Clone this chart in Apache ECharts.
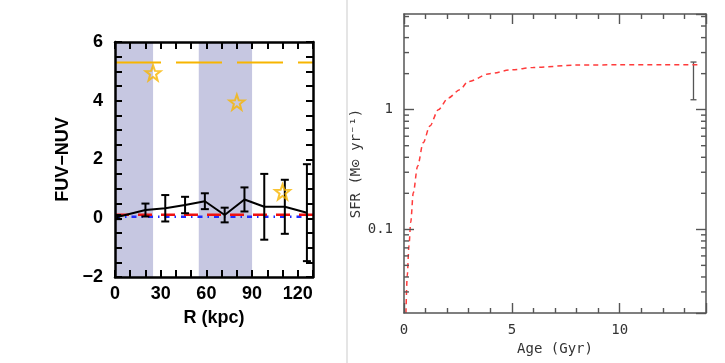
<!DOCTYPE html>
<html>
<head>
<meta charset="utf-8">
<script src="https://cdn.jsdelivr.net/npm/echarts@6/dist/echarts.min.js"></script>
<style>html,body{margin:0;padding:0;background:#fff}#c{width:725px;height:363px}</style>
</head>
<body>
<div id="c"></div>
<script>
// ---------- Left panel data ----------
const radiusKpc = [1.5, 20, 33, 46, 59, 72, 85, 98, 111.5, 126];
const fuvNuv = [0.04, 0.28, 0.34, 0.45, 0.58, 0.11, 0.64, 0.39, 0.39, 0.19];
const fuvNuvErr = [0.07, 0.22, 0.45, 0.28, 0.27, 0.25, 0.41, 1.12, 0.92, 1.65];
const bandStart = [0, 55];
const bandEnd = [25, 90];
const starR = [25, 80, 110];
const starColor = [4.95, 3.95, 0.9];
const orangeLevel = 5.3;
const redLevel = 0.12;
const blueLevel = 0.05;
const leftXRange = [0, 130];
const leftYRange = [-2, 6];

// ---------- Right panel data ----------
const ageGyr = [0.09, 0.15, 0.23, 0.31, 0.43, 0.63, 0.89, 1.2, 1.59, 2.05, 2.59, 2.98, 3.98, 4.98, 5.99, 8.0, 10.0, 12.0, 13.6];
const sfr = [0.02, 0.041, 0.073, 0.114, 0.202, 0.337, 0.53, 0.73, 1.0, 1.25, 1.47, 1.72, 2.0, 2.15, 2.25, 2.36, 2.37, 2.37, 2.37];
const sfrErrAge = [13.42];
const sfrErrLow = [1.21];
const sfrErrHigh = [2.5];
const sfrMinorTicks = [0.03, 0.04, 0.05, 0.06, 0.07, 0.08, 0.09, 0.2, 0.3, 0.4, 0.5, 0.6, 0.7, 0.8, 0.9, 2, 3, 4, 5, 6];
const rightXRange = [0, 14];
const rightYRange = [0.02, 6.3];

const chart = echarts.init(document.getElementById('c'), null, {renderer: 'canvas'});

const boldFont = {fontFamily: 'Liberation Sans, Arial, sans-serif', fontWeight: 'bold', fontSize: 18, color: '#000'};
const monoFont = {fontFamily: 'DejaVu Sans Mono, monospace', fontSize: 14, color: '#333'};
const starPath = 'path://M50,0 L62,34 L98,35 L69,57 L79,92 L50,71 L21,92 L31,57 L2,35 L38,34 Z';

const leftAxisLine = {show: true, onZero: false, lineStyle: {color: '#000', width: 2.5}};
const leftTick = {show: true, inside: true, length: 7, lineStyle: {color: '#000', width: 2}};
const leftMinor = {show: true, length: 7, lineStyle: {color: '#000', width: 2}};
const rightAxisLine = {show: true, onZero: false, lineStyle: {color: '#555', width: 1.5}};
const rightTick = {show: true, inside: true, length: 10, lineStyle: {color: '#555', width: 1.4}};

function minusFmt(v) { return String(v).replace('-', '\u2212'); }

option = {
  animation: false,
  graphic: [{type: 'line', shape: {x1: 347, y1: 0, x2: 347, y2: 363}, style: {stroke: '#dddddd', lineWidth: 1.5}}],
  grid: [
    {left: 115, top: 42, width: 198, height: 235},
    {left: 404, top: 14, width: 302, height: 299}
  ],
  xAxis: [
    {gridIndex: 0, type: 'value', min: leftXRange[0], max: leftXRange[1], interval: 30, position: 'bottom', z: 10,
     axisLine: leftAxisLine, axisTick: leftTick, minorTick: Object.assign({splitNumber: 3}, leftMinor),
     splitLine: {show: false}, minorSplitLine: {show: false},
     axisLabel: Object.assign({margin: 8, showMaxLabel: false, formatter: v => (v % 30 === 0 ? String(v) : '')}, boldFont),
     name: 'R (kpc)', nameLocation: 'middle', nameGap: 32, nameTextStyle: boldFont},
    {gridIndex: 0, type: 'value', min: leftXRange[0], max: leftXRange[1], interval: 30, position: 'top', z: 10,
     axisLine: leftAxisLine, axisTick: leftTick, minorTick: Object.assign({splitNumber: 3}, leftMinor),
     splitLine: {show: false}, axisLabel: {show: false}},
    {gridIndex: 1, type: 'value', min: rightXRange[0], max: rightXRange[1], interval: 5, position: 'bottom', z: 10,
     axisLine: rightAxisLine, axisTick: rightTick,
     minorTick: {show: true, splitNumber: 5, length: 5, lineStyle: {color: '#555', width: 1.4}},
     splitLine: {show: false},
     axisLabel: Object.assign({margin: 10, showMaxLabel: false, formatter: v => (v % 5 === 0 ? String(v) : '')}, monoFont),
     name: 'Age (Gyr)', nameLocation: 'middle', nameGap: 29, nameTextStyle: monoFont},
    {gridIndex: 1, type: 'value', min: rightXRange[0], max: rightXRange[1], interval: 5, position: 'top', z: 10,
     axisLine: rightAxisLine, axisTick: rightTick,
     minorTick: {show: true, splitNumber: 5, length: 5, lineStyle: {color: '#555', width: 1.4}},
     splitLine: {show: false}, axisLabel: {show: false}}
  ],
  yAxis: [
    {gridIndex: 0, type: 'value', min: leftYRange[0], max: leftYRange[1], interval: 2, position: 'left', z: 10,
     axisLine: leftAxisLine, axisTick: leftTick, minorTick: Object.assign({splitNumber: 4}, leftMinor),
     splitLine: {show: false},
     axisLabel: Object.assign({margin: 12, formatter: minusFmt}, boldFont),
     name: 'FUV\u2212NUV', nameLocation: 'middle', nameGap: 43, nameTextStyle: boldFont},
    {gridIndex: 0, type: 'value', min: leftYRange[0], max: leftYRange[1], interval: 2, position: 'right', z: 10,
     axisLine: leftAxisLine, axisTick: leftTick, minorTick: Object.assign({splitNumber: 4}, leftMinor),
     splitLine: {show: false}, axisLabel: {show: false}},
    {gridIndex: 1, type: 'log', logBase: 10, min: rightYRange[0], max: rightYRange[1], position: 'left', z: 10,
     axisLine: rightAxisLine, axisTick: rightTick, splitLine: {show: false},
     axisLabel: Object.assign({margin: 11, showMinLabel: false, showMaxLabel: false,
       formatter: v => { const l = Math.log10(v); return Math.abs(l - Math.round(l)) < 1e-6 ? String(+v.toPrecision(3)) : ''; }}, monoFont),
     name: 'SFR (M\u2299 yr\u207B\u00B9)', nameLocation: 'middle', nameGap: 39, nameTextStyle: monoFont},
    {gridIndex: 1, type: 'log', logBase: 10, min: rightYRange[0], max: rightYRange[1], position: 'right', z: 10,
     axisLine: rightAxisLine, axisTick: rightTick, splitLine: {show: false}, axisLabel: {show: false}}
  ],
  series: [
    {type: 'line', xAxisIndex: 0, yAxisIndex: 0, z: 1, symbol: 'none', silent: true,
     data: [[leftXRange[0], orangeLevel], [leftXRange[1], orangeLevel]],
     lineStyle: {color: '#f7b500', width: 2, type: [46, 15]},
     markArea: {silent: true, itemStyle: {color: '#c6c7e1'},
       data: bandStart.map((s, i) => [{xAxis: s}, {xAxis: bandEnd[i]}])}},
    {type: 'line', xAxisIndex: 0, yAxisIndex: 0, z: 3, symbol: 'none', silent: true,
     data: [[leftXRange[0], blueLevel], [leftXRange[1], blueLevel]],
     lineStyle: {color: '#1f2bff', width: 2.5, type: [5, 5, 1.5, 5]}},
    {type: 'line', xAxisIndex: 0, yAxisIndex: 0, z: 4, symbol: 'none', silent: true,
     data: [[leftXRange[0], redLevel], [leftXRange[1], redLevel]],
     lineStyle: {color: '#ee1111', width: 2.5, type: [14, 9]}},
    {type: 'line', xAxisIndex: 0, yAxisIndex: 0, z: 5, symbol: 'none', silent: true,
     data: radiusKpc.map((r, i) => [r, fuvNuv[i]]),
     lineStyle: {color: '#000', width: 2}},
    {type: 'custom', xAxisIndex: 0, yAxisIndex: 0, z: 5, silent: true, clip: true,
     data: radiusKpc.map((r, i) => [r, fuvNuv[i] - fuvNuvErr[i], fuvNuv[i] + fuvNuvErr[i]]),
     encode: {x: 0, y: [1, 2]},
     renderItem: (params, api) => {
       const lo = api.coord([api.value(0), api.value(1)]);
       const hi = api.coord([api.value(0), api.value(2)]);
       const st = {stroke: '#000', lineWidth: 2};
       return {type: 'group', children: [
         {type: 'line', shape: {x1: lo[0], y1: lo[1], x2: hi[0], y2: hi[1]}, style: st},
         {type: 'line', shape: {x1: lo[0] - 4, y1: lo[1], x2: lo[0] + 4, y2: lo[1]}, style: st},
         {type: 'line', shape: {x1: hi[0] - 4, y1: hi[1], x2: hi[0] + 4, y2: hi[1]}, style: st}
       ]};
     }},
    {type: 'scatter', xAxisIndex: 0, yAxisIndex: 0, z: 6, silent: true,
     data: starR.map((r, i) => [r, starColor[i]]),
     symbol: starPath, symbolSize: 15,
     itemStyle: {color: 'rgba(255,255,255,0)', borderColor: '#f7b500', borderWidth: 2}},

    {type: 'line', xAxisIndex: 2, yAxisIndex: 2, z: 3, symbol: 'none', silent: true, smooth: 0.3, smoothMonotone: 'x',
     data: ageGyr.map((a, i) => [a, sfr[i]]),
     lineStyle: {color: '#ff3b3b', width: 1.5, type: [5, 4]}},
    {type: 'custom', xAxisIndex: 2, yAxisIndex: 2, z: 3, silent: true,
     data: sfrErrAge.map((a, i) => [a, sfrErrLow[i], sfrErrHigh[i]]),
     encode: {x: 0, y: [1, 2]},
     renderItem: (params, api) => {
       const lo = api.coord([api.value(0), api.value(1)]);
       const hi = api.coord([api.value(0), api.value(2)]);
       const st = {stroke: '#555', lineWidth: 1.3};
       return {type: 'group', children: [
         {type: 'line', shape: {x1: lo[0], y1: lo[1], x2: hi[0], y2: hi[1]}, style: st},
         {type: 'line', shape: {x1: lo[0] - 3, y1: lo[1], x2: lo[0] + 3, y2: lo[1]}, style: st},
         {type: 'line', shape: {x1: hi[0] - 3, y1: hi[1], x2: hi[0] + 3, y2: hi[1]}, style: st}
       ]};
     }},
    {type: 'custom', xAxisIndex: 2, yAxisIndex: 2, z: 11, silent: true, clip: false,
     data: sfrMinorTicks.map(v => [rightXRange[0], v]),
     encode: {x: 0, y: 1},
     renderItem: (params, api) => {
       const pl = api.coord([rightXRange[0], api.value(1)]);
       const pr = api.coord([rightXRange[1], api.value(1)]);
       const st = {stroke: '#555', lineWidth: 1.4};
       return {type: 'group', children: [
         {type: 'line', shape: {x1: pl[0], y1: pl[1], x2: pl[0] + 5, y2: pl[1]}, style: st},
         {type: 'line', shape: {x1: pr[0], y1: pr[1], x2: pr[0] - 5, y2: pr[1]}, style: st}
       ]};
     }}
  ]
};
chart.setOption(option);
</script>
</body>
</html>
